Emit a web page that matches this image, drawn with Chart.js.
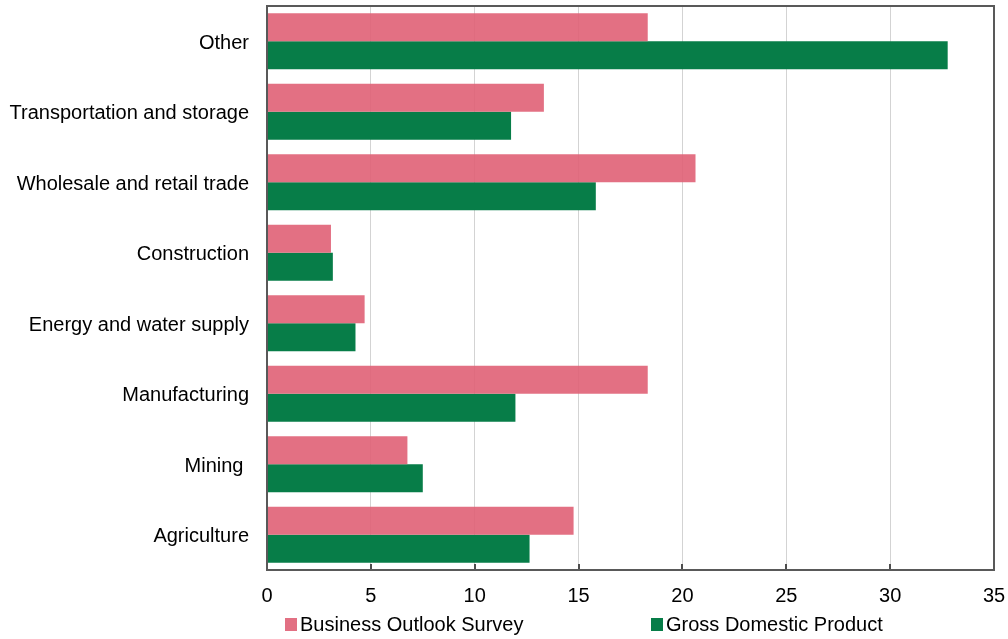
<!DOCTYPE html>
<html>
<head>
<meta charset="utf-8">
<script src="https://cdn.jsdelivr.net/npm/chart.js@4/dist/chart.umd.min.js"></script>
<style>
  html, body { margin: 0; padding: 0; background: #fff; }
  #wrap { width: 1008px; height: 639px; position: relative; }
</style>
</head>
<body>
<div id="wrap"><canvas id="c" width="1008" height="639"></canvas></div>
<script>
const categories = ["Other", "Transportation and storage", "Wholesale and retail trade", "Construction", "Energy and water supply", "Manufacturing", "Mining ", "Agriculture"];
const seriesNames = ["Business Outlook Survey", "Gross Domestic Product"];
const businessOutlook = [18.33, 13.33, 20.63, 3.08, 4.70, 18.33, 6.76, 14.76];
const grossDomestic = [32.77, 11.75, 15.83, 3.17, 4.26, 11.96, 7.50, 12.64];
const xTicks = [0, 5, 10, 15, 20, 25, 30, 35];

const FONT = "'Liberation Sans', Arial, sans-serif";
const PINK = 'rgba(224,96,117,0.9)';
const PINK_SOLID = '#E27083';
const GREEN = '#077D48';

function zeroPad(s) { s.paddingTop = 0; s.paddingBottom = 0; s.paddingLeft = 0; s.paddingRight = 0; }

const frame = {
  id: 'frame',
  afterDatasetsDraw(chart) {
    const {ctx, chartArea: a} = chart;
    const xs = chart.scales.x;
    ctx.save();
    ctx.strokeStyle = '#4d4d4d';
    ctx.lineWidth = 2;
    xTicks.forEach(v => {
      const px = Math.round(xs.getPixelForValue(v));
      ctx.beginPath();
      ctx.moveTo(px, a.bottom);
      ctx.lineTo(px, a.bottom - 6);
      ctx.stroke();
    });
    ctx.strokeStyle = '#595959';
    ctx.lineWidth = 2;
    ctx.strokeRect(a.left, a.top, a.right - a.left, a.bottom - a.top);
    ctx.restore();
  },
  afterDraw(chart) {
    const {ctx} = chart;
    const pos = [285, 651];
    ctx.save();
    ctx.font = '20px ' + FONT;
    ctx.textBaseline = 'middle';
    ctx.textAlign = 'left';
    chart.data.datasets.forEach((ds, i) => {
      ctx.fillStyle = ds.legendColor;
      ctx.fillRect(pos[i], 618, 12, 13);
      ctx.fillStyle = '#000';
      ctx.fillText(ds.label, pos[i] + 15, 625);
    });
    ctx.restore();
  }
};

new Chart(document.getElementById('c'), {
  type: 'bar',
  data: {
    labels: categories,
    datasets: [
      { label: seriesNames[0], data: businessOutlook, backgroundColor: PINK, borderWidth: 0, legendColor: PINK_SOLID },
      { label: seriesNames[1], data: grossDomestic, backgroundColor: GREEN, borderWidth: 0, legendColor: GREEN }
    ]
  },
  options: {
    indexAxis: 'y',
    responsive: false,
    animation: false,
    devicePixelRatio: 1,
    layout: { padding: { top: 6, right: 14, left: 0, bottom: 0 } },
    datasets: { bar: { categoryPercentage: 0.795, barPercentage: 1.0 } },
    plugins: { legend: { display: false }, tooltip: { enabled: false } },
    scales: {
      x: {
        min: 0, max: 35,
        afterFit(s) { s.height = 69; zeroPad(s); },
        afterBuildTicks(s) { s.ticks = xTicks.map(v => ({ value: v })); },
        ticks: { font: { size: 20, family: FONT }, color: '#000', padding: 14, maxRotation: 0 },
        grid: { color: '#d3d3d3', lineWidth: 1, drawTicks: false },
        border: { display: false }
      },
      y: {
        afterFit(s) { s.width = 267; zeroPad(s); },
        ticks: { font: { size: 20, family: FONT }, color: '#000', padding: 18, labelOffset: 2 },
        grid: { display: false, drawTicks: false },
        border: { display: false }
      }
    }
  },
  plugins: [frame]
});
</script>
</body>
</html>
